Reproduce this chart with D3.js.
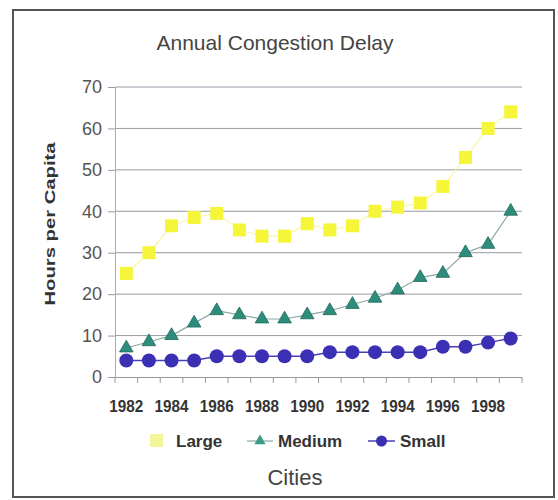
<!DOCTYPE html>
<html><head><meta charset="utf-8">
<script src="https://cdn.jsdelivr.net/npm/d3@7"></script>
<style>body{margin:0;background:#fff}svg{display:block}</style>
</head><body><svg id="c" width="558" height="500"></svg>
<script>
const years = [1982,1983,1984,1985,1986,1987,1988,1989,1990,1991,1992,1993,1994,1995,1996,1997,1998,1999];
const large  = [25,30,36.5,38.5,39.5,35.5,34,34,37,35.5,36.5,40,41,42,46,53,60,64];
const medium = [7,8.5,10,13,16,15,14,14,15,16,17.5,19,21,24,25,30,32,40];
const small  = [4,4,4,4,5,5,5,5,5,6,6,6,6,6,7.3,7.3,8.3,9.3];
const yTicks = [0,10,20,30,40,50,60,70];
const xTickLabels = [1982,1984,1986,1988,1990,1992,1994,1996,1998];

const svg = d3.select("#c");
const font = "Liberation Sans, Arial, sans-serif";
const L = 115, R = 522, T = 87, B = 377;

svg.append("rect").attr("x",13).attr("y",10).attr("width",541).attr("height",487)
  .attr("fill","#fff").attr("stroke","#555").attr("stroke-width",2);

const x = d3.scaleBand().domain(years).range([L,R]);
const y = d3.scaleLinear().domain([0,70]).range([B,T]);
const cx = d => x(d) + x.bandwidth()/2;

// gridlines
svg.append("g").selectAll("line").data(yTicks.filter(v=>v>0)).join("line")
  .attr("x1",L).attr("x2",R).attr("y1",d=>y(d)).attr("y2",d=>y(d))
  .attr("stroke","#9a9aa6").attr("stroke-width",1);

// y axis
const ya = svg.append("g").attr("transform",`translate(${L},0)`)
  .call(d3.axisLeft(y).tickValues(yTicks).tickSize(7).tickPadding(6));
ya.select(".domain").attr("stroke","#aaa");
ya.selectAll(".tick line").attr("stroke","#999");
ya.selectAll("text").attr("font-family",font).attr("font-size",18).attr("fill","#555");

// x axis
const xa = svg.append("g").attr("transform",`translate(0,${B})`)
  .call(d3.axisBottom(x).tickSize(0).tickFormat(d => xTickLabels.includes(d) ? d : "").tickPadding(23));
xa.select(".domain").attr("stroke","#999");
xa.selectAll("text").attr("font-family",font).attr("font-size",17).attr("font-weight","bold").attr("fill","#333")
  .attr("textLength",d => xTickLabels.includes(d) ? 34 : null).attr("lengthAdjust","spacingAndGlyphs");
svg.append("g").selectAll("line").data(years.concat([null])).join("line")
  .attr("x1",(d,i)=> L + i*x.bandwidth()).attr("x2",(d,i)=> L + i*x.bandwidth())
  .attr("y1",B).attr("y2",B+6).attr("stroke","#999");

const line = d3.line().x((d,i)=>cx(years[i])).y(d=>y(d));

// Large
svg.append("path").datum(large).attr("d",line).attr("fill","none").attr("stroke","#f6f6a8").attr("stroke-width",1.2);
svg.append("g").selectAll("rect").data(large).join("rect")
  .attr("x",(d,i)=>cx(years[i])-6.5).attr("y",d=>y(d)-6.5).attr("width",13).attr("height",13)
  .attr("fill","#f5f53a");

// Medium
svg.append("path").datum(medium).attr("d",line).attr("fill","none").attr("stroke","#8fa8a2").attr("stroke-width",1.2);
const tri = d3.symbol().type(d3.symbolTriangle).size(80);
svg.append("g").selectAll("path").data(medium).join("path")
  .attr("d",tri).attr("transform",(d,i)=>`translate(${cx(years[i])},${y(d)})`)
  .attr("fill","#2e8c7c").attr("stroke","#1f6b5c").attr("stroke-width",0.8);

// Small
svg.append("path").datum(small).attr("d",line).attr("fill","none").attr("stroke","#4a3fb8").attr("stroke-width",1.5);
svg.append("g").selectAll("circle").data(small).join("circle")
  .attr("cx",(d,i)=>cx(years[i])).attr("cy",d=>y(d)).attr("r",7)
  .attr("fill","#3b2fb3");

// title
svg.append("text").attr("x",275).attr("y",50).attr("text-anchor","middle")
  .attr("font-family",font).attr("font-size",21).attr("fill","#444").text("Annual Congestion Delay");

// y label
svg.append("text").attr("transform","translate(55,224) rotate(-90)").attr("text-anchor","middle")
  .attr("font-family",font).attr("font-size",15).attr("font-weight","bold").attr("fill","#333")
  .attr("textLength",163).attr("lengthAdjust","spacingAndGlyphs").text("Hours per Capita");

// legend
const lg = svg.append("g").attr("font-family",font).attr("font-size",17).attr("font-weight","bold").attr("fill","#333");
const ly = 441;
lg.append("rect").attr("x",150).attr("y",ly-7).attr("width",13).attr("height",13).attr("fill","#f3f59a");
lg.append("text").attr("x",176).attr("y",ly+6).text("Large");
lg.append("line").attr("x1",247).attr("x2",273).attr("y1",ly).attr("y2",ly).attr("stroke","#8fa8a2").attr("stroke-width",1.2);
lg.append("path").attr("d",d3.symbol().type(d3.symbolTriangle).size(55)).attr("transform",`translate(260,${ly})`).attr("fill","#3d9c88");
lg.append("text").attr("x",278).attr("y",ly+6).text("Medium");
lg.append("line").attr("x1",368).attr("x2",395).attr("y1",ly).attr("y2",ly).attr("stroke","#4a3fb8").attr("stroke-width",1.5);
lg.append("circle").attr("cx",381.5).attr("cy",ly).attr("r",5.5).attr("fill","#3b2fb3");
lg.append("text").attr("x",400).attr("y",ly+6).text("Small");

svg.append("text").attr("x",295).attr("y",485).attr("text-anchor","middle")
  .attr("font-family",font).attr("font-size",22).attr("fill","#444").text("Cities");
</script></body></html>
